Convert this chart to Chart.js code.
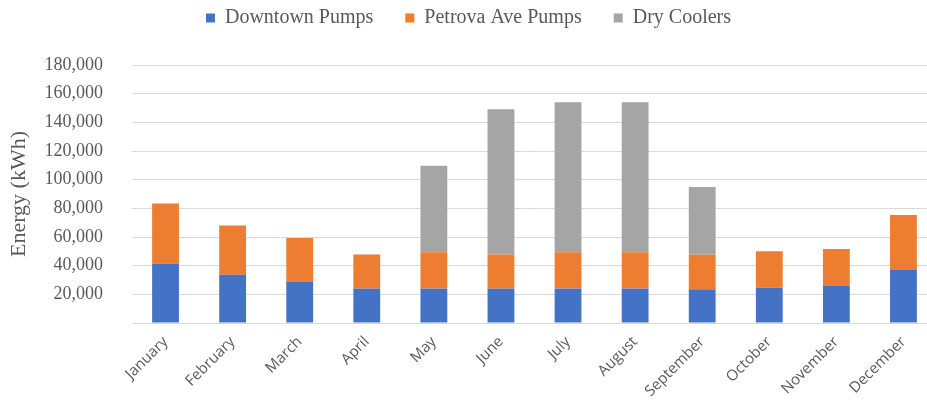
<!DOCTYPE html>
<html>
<head>
<meta charset="utf-8">
<script src="https://cdn.jsdelivr.net/npm/chart.js@4/dist/chart.umd.min.js"></script>
<style>
  html, body { margin: 0; padding: 0; background: #ffffff; overflow: hidden; }
  #wrap { position: relative; width: 940px; height: 413px; }
</style>
</head>
<body>
<div id="wrap"><canvas id="energyChart"></canvas></div>
<script>
// Monthly energy use (kWh) by equipment group
const months = ['January', 'February', 'March', 'April', 'May', 'June',
                'July', 'August', 'September', 'October', 'November', 'December'];
const downtownPumps = [41300, 33700, 29000, 24000, 24000, 24000, 24000, 24000, 23500, 24600, 25800, 36900];
const petrovaPumps  = [42000, 34300, 30300, 23800, 25400, 23800, 25400, 25400, 24100, 25500, 25900, 38500];
const dryCoolers    = [0, 0, 0, 0, 60300, 101400, 104600, 104600, 47300, 0, 0, 0];
const yTicks = [20000, 40000, 60000, 80000, 100000, 120000, 140000, 160000, 180000];

const serif = "'Liberation Serif', 'Times New Roman', serif";
const sans = "'Open Sans', 'Liberation Sans', sans-serif";
const textGrey = '#595959';

// Give the legend a fixed band at the top so the plot starts lower down
const legendBand = {
  id: 'legendBand',
  beforeInit(chart) {
    const origFit = chart.legend.fit;
    chart.legend.fit = function () {
      origFit.call(this);
      this.height = 89;
    };
  }
};

new Chart(document.getElementById('energyChart'), {
  type: 'bar',
  data: {
    labels: months,
    datasets: [
      { label: 'Downtown Pumps', data: downtownPumps, backgroundColor: '#4472C4' },
      { label: 'Petrova Ave Pumps', data: petrovaPumps, backgroundColor: '#ED7D31' },
      { label: 'Dry Coolers', data: dryCoolers, backgroundColor: '#A5A5A5' }
    ]
  },
  options: {
    responsive: true,
    maintainAspectRatio: false,
    animation: false,
    layout: { padding: { top: -24, bottom: 0, left: 0, right: 3 } },
    datasets: { bar: { categoryPercentage: 1, barPercentage: 0.4 } },
    plugins: {
      legend: {
        position: 'top',
        labels: {
          boxWidth: 9,
          boxHeight: 9,
          padding: 32,
          color: textGrey,
          font: { family: serif, size: 20 }
        }
      },
      tooltip: { enabled: false }
    },
    scales: {
      x: {
        stacked: true,
        grid: { display: false, drawTicks: false },
        border: { display: true, color: '#d9d9d9', width: 1 },
        afterFit(scale) {
          // rotated month names may hang under the value labels
          scale.paddingLeft = 0;
          scale.paddingRight = 0;
          scale.height = 90;
        },
        ticks: {
          minRotation: 45,
          maxRotation: 45,
          padding: 10,
          color: textGrey,
          font: { family: sans, size: 15 }
        }
      },
      y: {
        stacked: true,
        min: 0,
        max: 180000,
        afterBuildTicks(scale) {
          scale.ticks = [0].concat(yTicks).map(v => ({ value: v }));
        },
        afterFit(scale) {
          scale.width = 132;
        },
        grid: { color: '#d9d9d9', lineWidth: 1, drawTicks: false },
        border: { display: false },
        ticks: {
          padding: 29,
          color: textGrey,
          font: { family: serif, size: 18 },
          callback: v => (v === 0 ? '' : v.toLocaleString('en-US'))
        },
        title: {
          display: true,
          text: 'Energy (kWh)',
          color: textGrey,
          font: { family: serif, size: 22 },
          padding: { top: 6, bottom: 6 }
        }
      }
    }
  },
  plugins: [legendBand]
});
</script>
</body>
</html>
